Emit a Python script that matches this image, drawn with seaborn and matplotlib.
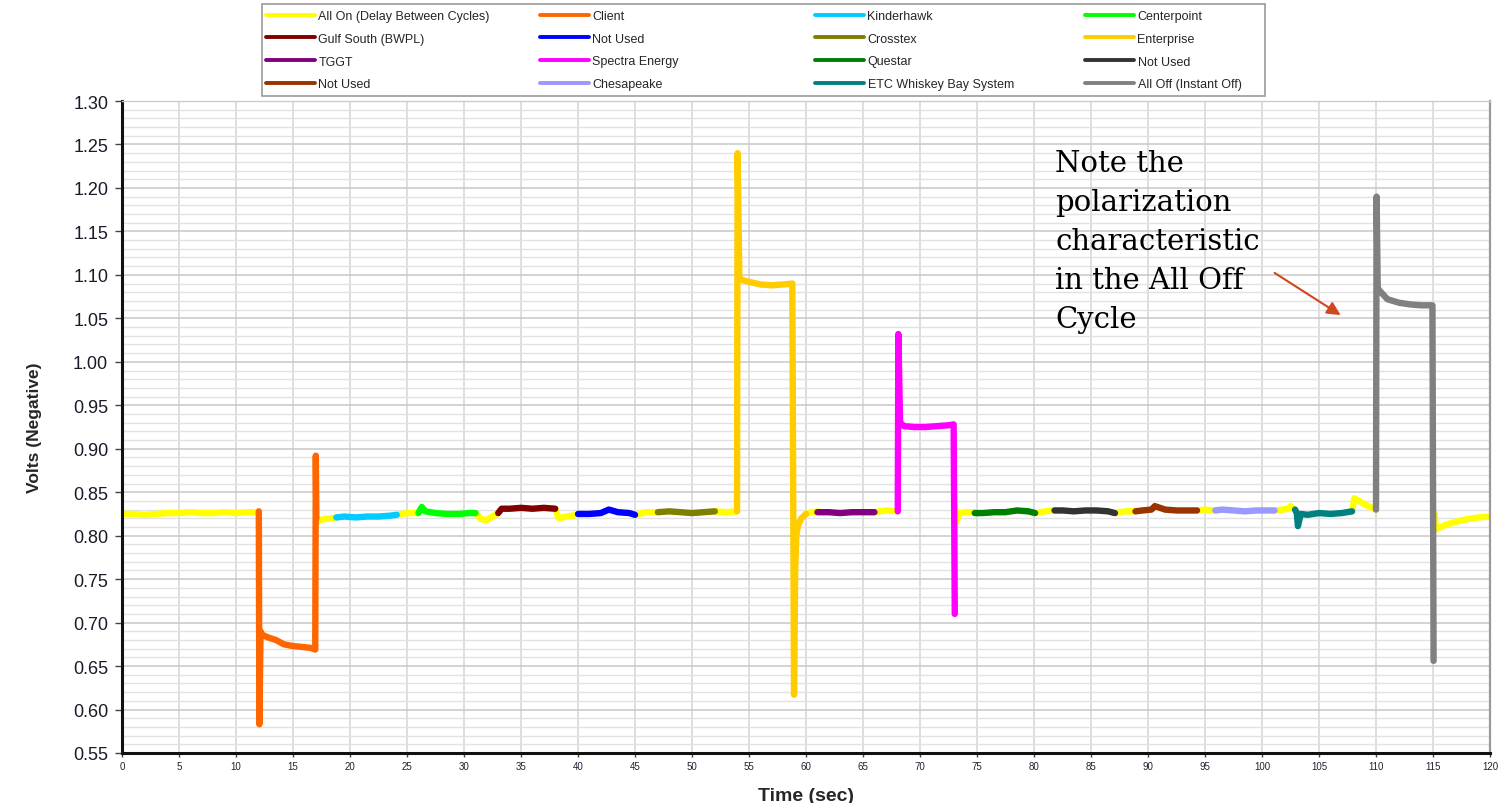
import matplotlib
matplotlib.use("Agg")
import matplotlib.pyplot as plt
from matplotlib.lines import Line2D
from matplotlib.patches import Rectangle
from matplotlib.ticker import MultipleLocator, FormatStrFormatter
import seaborn as sns
import pandas as pd

# ---------------- data ----------------
series_names = ["All On (Delay Between Cycles)", "Client", "Kinderhawk", "Centerpoint",
                "Gulf South (BWPL)", "Not Used", "Crosstex", "Enterprise",
                "TGGT", "Spectra Energy", "Questar", "Not Used",
                "Not Used", "Chesapeake", "ETC Whiskey Bay System", "All Off (Instant Off)"]
series_colors = ["#FFFF00", "#FF6600", "#00CCFF", "#00FF00",
                 "#800000", "#0000FF", "#808000", "#FFCC00",
                 "#800080", "#FF00FF", "#008000", "#333333",
                 "#993300", "#9999FF", "#008080", "#808080"]

allon_t = [[0, 1, 2, 3, 4, 5, 6, 7, 8, 9, 10, 11, 12.0],
           [17.05, 17.3, 17.8, 18.4, 18.8],
           [24.1, 25, 26],
           [31.0, 31.5, 32.0, 32.5, 33.0],
           [38.0, 38.3, 39, 40],
           [45, 46, 47],
           [52, 53, 53.95],
           [60.0, 60.5, 61],
           [66, 67, 68.05],
           [73.1, 73.15, 73.5, 74, 74.8],
           [80.1, 81, 81.8],
           [87.1, 88, 88.9],
           [94.3, 95, 95.9],
           [101.1, 101.8, 102.3, 102.5, 102.9],
           [107.9, 108.1, 109, 110.0],
           [115.15, 115.25, 116, 117, 118, 119, 120]]
allon_v = [[0.825, 0.825, 0.824, 0.825, 0.826, 0.826, 0.827, 0.826, 0.826, 0.827, 0.826, 0.827, 0.827],
           [0.814, 0.818, 0.819, 0.820, 0.821],
           [0.824, 0.826, 0.826],
           [0.826, 0.819, 0.818, 0.822, 0.826],
           [0.831, 0.820, 0.822, 0.824],
           [0.824, 0.827, 0.827],
           [0.828, 0.827, 0.828],
           [0.825, 0.827, 0.828],
           [0.827, 0.829, 0.828],
           [0.830, 0.815, 0.826, 0.827, 0.827],
           [0.826, 0.828, 0.829],
           [0.826, 0.828, 0.828],
           [0.829, 0.830, 0.829],
           [0.829, 0.830, 0.831, 0.834, 0.830],
           [0.828, 0.843, 0.836, 0.830],
           [0.825, 0.807, 0.812, 0.816, 0.819, 0.821, 0.822]]

client_t = [12.0, 12.05, 12.15, 12.3, 12.8, 13.5, 14.2, 15.0, 15.8, 16.5, 16.95, 17.0, 17.05]
client_v = [0.828, 0.583, 0.690, 0.686, 0.683, 0.680, 0.675, 0.673, 0.672, 0.671, 0.669, 0.892, 0.820]

kinder_t = [18.8, 19.5, 20.5, 21.5, 22.5, 23.5, 24.1]
kinder_v = [0.821, 0.822, 0.821, 0.822, 0.822, 0.823, 0.824]

center_t = [26.0, 26.3, 26.6, 27.5, 28.5, 29.5, 30.5, 31.0]
center_v = [0.826, 0.833, 0.828, 0.826, 0.825, 0.825, 0.826, 0.826]

gulf_t = [33.0, 33.3, 34, 35, 36, 37, 38.0]
gulf_v = [0.826, 0.831, 0.831, 0.832, 0.831, 0.832, 0.831]

notused1_t = [40, 41, 42, 42.7, 43.5, 44.5, 45]
notused1_v = [0.825, 0.825, 0.826, 0.830, 0.827, 0.826, 0.824]

crosstex_t = [47, 48, 49, 50, 51, 52]
crosstex_v = [0.827, 0.828, 0.827, 0.826, 0.827, 0.828]

enterprise_t = [53.95, 54.0, 54.15, 54.4, 55, 56, 57, 58, 58.8, 58.95, 59.05, 59.15, 59.3, 59.6, 60.0]
enterprise_v = [0.828, 1.240, 1.097, 1.094, 1.092, 1.089, 1.088, 1.089, 1.090, 0.617, 0.760, 0.800, 0.812, 0.820, 0.825]

tggt_t = [61, 62, 63, 64, 65, 66]
tggt_v = [0.827, 0.827, 0.826, 0.827, 0.827, 0.827]

spectra_t = [68.05, 68.1, 68.25, 68.6, 69.5, 70.5, 71.5, 72.5, 72.95, 73.05]
spectra_v = [0.828, 1.032, 0.930, 0.926, 0.925, 0.925, 0.926, 0.927, 0.928, 0.710]

questar_t = [74.8, 75.5, 76.5, 77.5, 78.5, 79.5, 80.1]
questar_v = [0.826, 0.826, 0.827, 0.827, 0.829, 0.828, 0.826]

notused2_t = [81.8, 82.5, 83.5, 84.5, 85.5, 86.5, 87.1]
notused2_v = [0.829, 0.829, 0.828, 0.829, 0.829, 0.828, 0.826]

notused3_t = [88.9, 89.5, 90.3, 90.6, 91.5, 92.5, 93.5, 94.3]
notused3_v = [0.828, 0.829, 0.830, 0.834, 0.830, 0.829, 0.829, 0.829]

chesapeake_t = [95.9, 96.5, 97.5, 98.5, 99.5, 100.5, 101.1]
chesapeake_v = [0.829, 0.830, 0.829, 0.828, 0.829, 0.829, 0.829]

etc_t = [102.9, 103.05, 103.15, 103.4, 104, 105, 106, 107, 107.9]
etc_v = [0.830, 0.826, 0.811, 0.825, 0.824, 0.826, 0.825, 0.826, 0.828]

alloff_t = [110.0, 110.05, 110.15, 110.3, 111, 112, 113, 114, 114.95, 115.05]
alloff_v = [0.830, 1.190, 1.085, 1.082, 1.072, 1.068, 1.066, 1.065, 1.065, 0.656]

x_ticks = list(range(0, 121, 5))
note_text = "Note the\npolarization\ncharacteristic\nin the All Off\nCycle"

# ---------------- figure ----------------
sns.set_theme(style="white")
plt.rcParams["font.family"] = ["Liberation Sans", "DejaVu Sans"]

fig = plt.figure(figsize=(14.99, 8.04), dpi=100)
fig.patch.set_facecolor("white")
ax = fig.add_axes([0.0814, 0.0622, 0.9126, 0.8109])
ax.set_facecolor("white")

LW = 4.6
# yellow "All On" segments first (underneath)
for tt, vv in zip(allon_t, allon_v):
    sns.lineplot(x=tt, y=vv, ax=ax, color=series_colors[0], lw=LW, sort=False,
                 estimator=None, legend=False, solid_capstyle="round")

others = [(client_t, client_v, 1), (kinder_t, kinder_v, 2), (center_t, center_v, 3),
          (gulf_t, gulf_v, 4), (notused1_t, notused1_v, 5), (crosstex_t, crosstex_v, 6),
          (enterprise_t, enterprise_v, 7), (tggt_t, tggt_v, 8), (spectra_t, spectra_v, 9),
          (questar_t, questar_v, 10), (notused2_t, notused2_v, 11), (notused3_t, notused3_v, 12),
          (chesapeake_t, chesapeake_v, 13), (etc_t, etc_v, 14), (alloff_t, alloff_v, 15)]
for tt, vv, ci in others:
    df = pd.DataFrame({"t": tt, "v": vv})
    sns.lineplot(data=df, x="t", y="v", ax=ax, color=series_colors[ci], lw=LW, sort=False,
                 estimator=None, legend=False, solid_capstyle="round")

ax.set_xlim(0, 120)
ax.set_ylim(0.55, 1.30)
ax.set_xticks(x_ticks)
ax.set_xticklabels([str(v) for v in x_ticks], fontsize=7, color="#222233")
ax.yaxis.set_major_locator(MultipleLocator(0.05))
ax.yaxis.set_minor_locator(MultipleLocator(0.01))
ax.yaxis.set_major_formatter(FormatStrFormatter("%.2f"))
ax.tick_params(axis="y", which="major", labelsize=13, labelcolor="#1a1a2a",
               length=5, width=1, color="#444444", direction="out", left=True, pad=5)
ax.tick_params(axis="y", which="minor", length=0)
ax.tick_params(axis="x", which="major", length=3, width=1, color="#444444",
               direction="out", bottom=True, pad=3)

ax.grid(True, which="minor", axis="y", color="#e2e2e2", lw=1.0)
ax.grid(True, which="major", axis="y", color="#c8c8c8", lw=1.1)
ax.grid(True, which="major", axis="x", color="#d4d4d4", lw=1.1)
ax.set_axisbelow(True)

for s in ax.spines.values():
    s.set_visible(True)
for s in ["left", "bottom"]:
    ax.spines[s].set_color("#111111")
    ax.spines[s].set_linewidth(2.2)
ax.spines["right"].set_color("#9a9a9a")
ax.spines["right"].set_linewidth(1.6)
ax.spines["top"].set_color("#cccccc")
ax.spines["top"].set_linewidth(1.0)

ax.set_xlabel("Time (sec)", fontsize=14, fontweight="bold", labelpad=11)
ax.set_ylabel("Volts (Negative)", fontsize=12.5, fontweight="bold", labelpad=22)

# legend: 4 columns at fixed positions, row-major order like the reference
col_x_px = [266, 540, 815, 1085]
W, H = 1499, 804
fig.patches.append(Rectangle((262 / W, 1 - 97 / H), 1003 / W, 92 / H,
                             transform=fig.transFigure, fill=False,
                             edgecolor="#9a9a9a", lw=1.2))
for c in range(4):
    idx = [r * 4 + c for r in range(4)]
    hs = [Line2D([0], [0], color=series_colors[i], lw=2.8) for i in idx]
    ls = [series_names[i] for i in idx]
    fig.legend(hs, ls, loc="upper left", bbox_to_anchor=(col_x_px[c] / W, 1 - 11 / H),
               bbox_transform=fig.transFigure, fontsize=9, frameon=False,
               handlelength=3.9, handletextpad=0.3, borderaxespad=0.0,
               borderpad=0.0, labelspacing=0.86)

# annotation
fig.text(0.704, 0.814, note_text, family=["DejaVu Serif"], fontsize=21,
         va="top", ha="left", linespacing=1.5, color="black")
ax.annotate("", xy=(107.1, 1.052), xytext=(100.9, 1.104),
            arrowprops=dict(arrowstyle="-|>", color="#D0461F", lw=1.5, mutation_scale=20))

fig.savefig("out.png", dpi=100, facecolor="white")
